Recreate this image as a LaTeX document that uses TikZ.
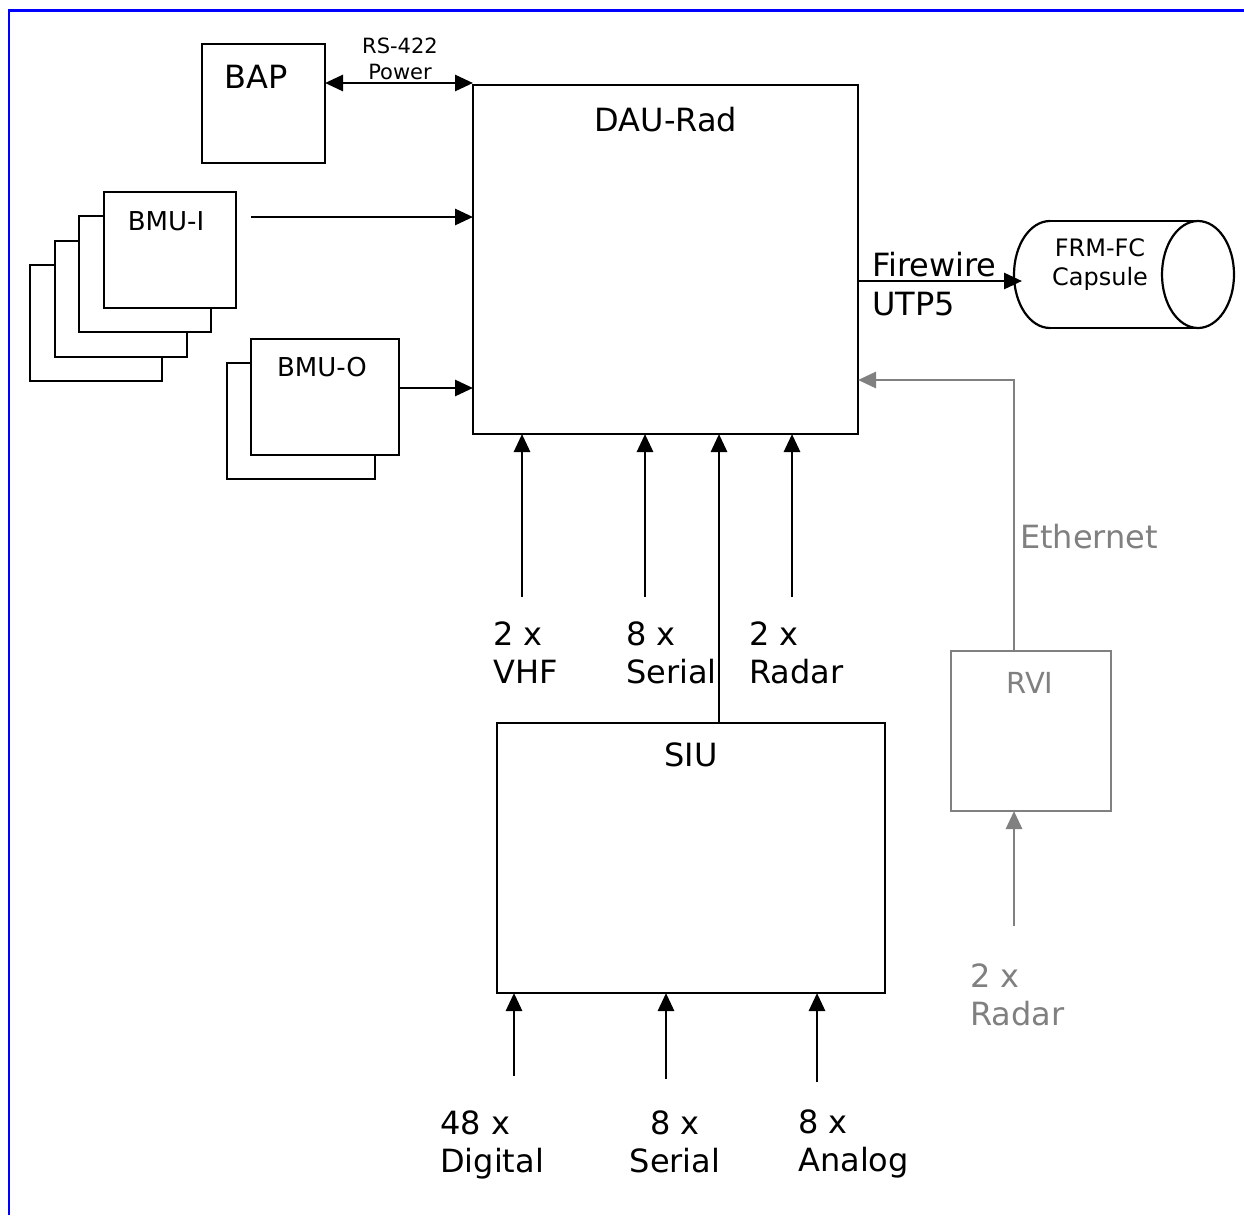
\documentclass[tikz,border=0pt]{standalone}
\usepackage{fontspec}
\setmainfont{DejaVu Sans}
\usetikzlibrary{arrows.meta}
\definecolor{frameblue}{RGB}{0,0,255}
\definecolor{greyline}{RGB}{128,128,128}
\begin{document}
\begin{tikzpicture}[x=1pt, y=-1pt,
  box/.style={draw, line width=2.2pt, inner sep=0pt, outer sep=0pt, fill=white, anchor=north west},
  gbox/.style={box, draw=greyline},
  tip/.tip={Triangle[length=18pt,width=16pt]},
  arr/.style={line width=2.8pt, -tip},
  darr/.style={line width=2.8pt, tip-tip},
  garr/.style={arr, color=greyline},
  big/.style={font=\fontsize{32}{38}\selectfont, inner sep=0pt},
  rvif/.style={font=\fontsize{29}{34}\selectfont, inner sep=0pt},
  mid/.style={font=\fontsize{26}{31}\selectfont, inner sep=0pt},
  capf/.style={font=\fontsize{24}{29}\selectfont, inner sep=0pt},
  small/.style={font=\fontsize{21}{26}\selectfont, inner sep=0pt},
  lbl/.style={big, align=left, anchor=west},
  cyl/.style={line width=2.2pt}
]
\useasboundingbox (0,0) rectangle (1244,1215);
% frame
\draw[frameblue, line width=2.5pt] (9,1215) -- (9,10.5) -- (1244,10.5);

% boxes
\node[box, minimum width=123pt, minimum height=119pt] (BAP) at (202,44) {};
\node[box, minimum width=385pt, minimum height=349pt] (DAU) at (473,85) {};
\node[box, minimum width=132pt, minimum height=116pt] (BMUI4) at (30,265) {};
\node[box, minimum width=132pt, minimum height=116pt] (BMUI3) at (55,241) {};
\node[box, minimum width=132pt, minimum height=116pt] (BMUI2) at (79,216) {};
\node[box, minimum width=132pt, minimum height=116pt] (BMUI) at (104,192) {};
\node[box, minimum width=148pt, minimum height=116pt] (BMUO2) at (227,363) {};
\node[box, minimum width=148pt, minimum height=116pt] (BMUO) at (251,339) {};
\node[box, minimum width=388pt, minimum height=270pt] (SIU) at (497,723) {};
\node[gbox, minimum width=160pt, minimum height=160pt] (RVI) at (951,651) {};

% cylinder
\draw[cyl] (1050,221) -- (1198,221);
\draw[cyl] (1050,328) -- (1198,328);
\draw[cyl] (1198,274.5) ellipse [x radius=36pt, y radius=53.5pt];
\draw[cyl] (1050,221) arc[start angle=90, end angle=270, x radius=36pt, y radius=53.5pt];
\coordinate (CYLW) at (1022,281);

% box titles
\node[big] (BAPt) at (256,77) {BAP};
\node[big] (DAUt) at (666,120) {DAU-Rad};
\node[mid] (BMUIt) at (166,221) {BMU-I};
\node[mid] (BMUOt) at (322,367) {BMU-O};
\node[big] (SIUt) at (691,755) {SIU};
\node[rvif, text=greyline] (RVIt) at (1030,683) {RVI};
\node[capf, align=center] (CYLt) at (1100,264.5) {FRM-FC\\Capsule};

% connector labels
\node[small, align=center] (RSt) at (400,59) {RS-422\\Power};
\node[big, anchor=base west] (FWt) at (872,276) {Firewire};
\node[big, anchor=base west] (UTPt) at (872,315) {UTP5};
\node[big, anchor=west, text=greyline] (ETHt) at (1020,537) {Ethernet};
\node[lbl] (VHFt) at (493,652.5) {2 x\\VHF};
\node[lbl] (SERt) at (626,652.5) {8 x\\Serial};
\node[lbl] (RADt) at (749,652.5) {2 x\\Radar};
\node[lbl, text=greyline] (GRADt) at (970,995) {2 x\\Radar};
\node[lbl] (DIGt) at (440,1145) {48 x\\Digital};
\node[big, align=center] (SER2t) at (675,1141.5) {8 x\\Serial};
\node[lbl] (ANAt) at (798,1143.5) {8 x\\Analog};

% connectors
\coordinate (bapR) at ([yshift=20.5pt]BAP.east);
\draw[darr] (bapR) -- (bapR -| DAU.west);
\coordinate (bmuiR) at ([xshift=15pt,yshift=33pt]BMUI.east);
\draw[arr] (bmuiR) -- (bmuiR -| DAU.west);
\coordinate (bmuoR) at ([yshift=9pt]BMUO.east);
\draw[arr] (bmuoR) -- (bmuoR -| DAU.west);
\coordinate (fwS) at ([yshift=-21.5pt]DAU.east);
\draw[arr] (fwS) -- (CYLW);

\coordinate (vhfS) at (522,597);
\coordinate (serS) at (645,597);
\coordinate (radS) at (792,597);
\draw[arr] (vhfS) -- (vhfS |- DAU.south);
\draw[arr] (serS) -- (serS |- DAU.south);
\draw[arr] (radS) -- (radS |- DAU.south);
\coordinate (siuT) at ([xshift=28pt]SIU.north);
\draw[arr] (siuT) -- (siuT |- DAU.south);

\coordinate (digS) at (514,1076);
\coordinate (ser2S) at (666,1079);
\coordinate (anaS) at (817,1082);
\draw[arr] (digS) -- (digS |- SIU.south);
\draw[arr] (ser2S) -- (ser2S |- SIU.south);
\draw[arr] (anaS) -- (anaS |- SIU.south);

\coordinate (grS) at (1014,926);
\draw[garr] (grS) -- (grS |- RVI.south);
\coordinate (rviT) at ([xshift=-17pt]RVI.north);
\coordinate (ethIn) at ([yshift=-120.5pt]DAU.east);
\draw[garr] (rviT) |- (ethIn);
\end{tikzpicture}
\end{document}
